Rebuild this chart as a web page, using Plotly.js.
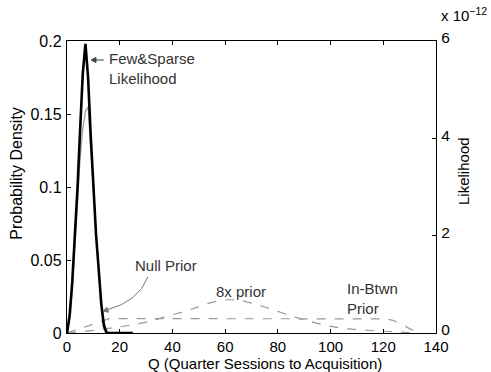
<!DOCTYPE html>
<html><head><meta charset="utf-8">
<script src="https://cdn.plot.ly/plotly-3.0.1.min.js"></script>
<style>html,body{margin:0;padding:0;background:#fff}#chart{width:491px;height:372px}</style>
</head><body><div id="chart"></div>
<script>
// Few&Sparse likelihood (right axis, units of 1e-12)
const likeQ = [0,1,2,3,4,5,6,7,8,9,10,11,12,13,14,15,20,25];
const likeE12 = [0,0.36,1.05,1.95,3.0,4.2,5.34,5.94,5.25,4.05,3.0,2.04,1.32,0.6,0.15,0,0,0];
// thin grey curve (left axis)
const postQ = [0,1,2,3,4,5,6,7,8,9,10,11,12,13,14,15,16];
const postD = [0,0.01,0.03,0.06,0.095,0.12,0.14,0.152,0.155,0.13,0.1,0.07,0.045,0.022,0.008,0.002,0];
// In-Btwn prior
const inbQ = [0,16,40,80,110,121,124,127,130,133];
const inbD = [0,0.0098,0.0098,0.0098,0.0098,0.0097,0.0085,0.006,0.003,0];
// 8x prior
const p8Q = [0,5,10,15,20,25,30,35,40,45,50,55,60,65,70,75,80,85,90,95,100,105,110,115,120,125,130];
const p8D = [0,0.0008,0.0018,0.003,0.0042,0.0057,0.0075,0.0098,0.0125,0.015,0.018,0.021,0.0226,0.0225,0.0205,0.0178,0.0148,0.0118,0.009,0.0066,0.0045,0.0032,0.0023,0.0017,0.0012,0.0008,0.0002];
const xTicks = [0,20,40,60,80,100,120,140];
const yTicks = [0,0.05,0.1,0.15,0.2];
const yTickText = ['0','0.05','0.1','0.15','0.2'];
const y2Ticks = [0,2,4,6];

const F = 'Liberation Sans, Arial, sans-serif';
const traces = [
  {x: inbQ, y: inbD, mode:'lines', line:{color:'#9a9a9a', width:1.2, dash:'dash'}, hoverinfo:'skip'},
  {x: p8Q, y: p8D, mode:'lines', line:{color:'#9a9a9a', width:1.2, dash:'dash', shape:'spline'}, hoverinfo:'skip'},
  {x: postQ, y: postD, mode:'lines', line:{color:'#a0a0a0', width:1.3}, hoverinfo:'skip'},
  {x: likeQ, y: likeE12, yaxis:'y2', mode:'lines', line:{color:'#000', width:2.6}, hoverinfo:'skip'}
];
const ax = {showgrid:false, zeroline:false, showline:true, linecolor:'#000', linewidth:1.2,
  ticks:'inside', ticklen:4, tickcolor:'#000', tickfont:{family:F, size:16, color:'#000'}};
const txt = {family:F, size:15, color:'#333'};
const layout = {
  width:491, height:372, margin:{l:67, r:55, t:41, b:39},
  paper_bgcolor:'#fff', plot_bgcolor:'#fff', showlegend:false,
  font:{family:F, color:'#000'},
  xaxis: Object.assign({}, ax, {range:[0,140], tickvals:xTicks, mirror:'ticks', ticklabelstandoff:0,
    tickfont:{family:F, size:15, color:'#000'}}),
  yaxis: Object.assign({}, ax, {range:[0,0.2], tickvals:yTicks, ticktext:yTickText, ticklabelstandoff:1}),
  yaxis2: Object.assign({}, ax, {overlaying:'y', side:'right', range:[0,6], tickvals:y2Ticks, ticklabelstandoff:1, ticklabelshift:-3,
    tickfont:{family:F, size:15.5, color:'#000'}}),
  shapes:[
    {type:'line', xref:'x', yref:'y', x0:14.0, y0:0.1870, x1:10.4, y1:0.1870, line:{color:'#444', width:1}},
    {type:'path', xref:'x', yref:'y', path:'M 9.1,0.1870 L 11.0,0.1887 L 11.0,0.1853 Z', fillcolor:'#444', line:{color:'#444', width:1}},
    {type:'path', xref:'x', yref:'y', path:'M 30.7,0.0384 Q 26.9,0.0212 15.3,0.0160', line:{color:'#777', width:1}},
    {type:'path', xref:'x', yref:'y', path:'M 13.66,0.01507 L 15.74,0.01425 L 15.25,0.01753 Z', fillcolor:'#777', line:{color:'#777', width:1}}
  ],
  annotations:[
    {x:0.537, y:-0.1045, xref:'paper', yref:'paper', text:'Q (Quarter Sessions to Acquisition)', showarrow:false, xanchor:'center', yanchor:'middle', font:{family:F, size:15, color:'#000'}},
    {x:-0.138, y:0.546, xref:'paper', yref:'paper', text:'Probability Density', textangle:-90, showarrow:false, xanchor:'center', yanchor:'middle', font:{family:F, size:16, color:'#000'}},
    {x:1.076, y:0.555, xref:'paper', yref:'paper', text:'Likelihood', textangle:-90, showarrow:false, xanchor:'center', yanchor:'middle', font:{family:F, size:15, color:'#000'}},
    {x:15.2, y:0.181, xref:'x', yref:'y', text:'Few&Sparse<br>Likelihood', showarrow:false, xanchor:'left', align:'left', font:txt},
    {x:25, y:0.0459, xref:'x', yref:'y', text:'Null Prior', showarrow:false, xanchor:'left', font:txt},
    {x:66, y:0.0281, xref:'x', yref:'y', text:'8x prior', showarrow:false, font:txt},
    {x:105.5, y:0.0233, xref:'x', yref:'y', text:'In-Btwn<br>Prior', showarrow:false, xanchor:'left', align:'left', font:txt},
    {x:1.008, y:1.09, xref:'paper', yref:'paper', text:'x 10<sup>−12</sup>', showarrow:false, xanchor:'left', yanchor:'middle', font:{family:F, size:15, color:'#000'}}
  ]
};
Plotly.newPlot('chart', traces, layout, {staticPlot:true, displayModeBar:false});
</script></body></html>
